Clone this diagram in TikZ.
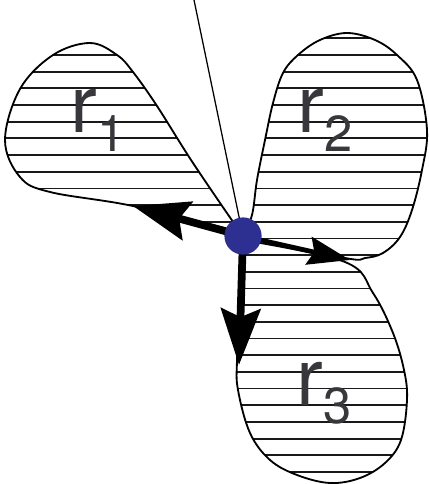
\documentclass[tikz,border=0pt]{standalone}
\usepackage{fontspec}
\setmainfont{TeX Gyre Heros}
\definecolor{dotblue}{RGB}{45,48,145}
\definecolor{labelgray}{RGB}{55,55,60}
\usetikzlibrary{arrows.meta}

\newcommand\lobeone{plot[smooth, tension=0.6] coordinates {(240,232) (193,163) (157,106) (133,72) (117,55) (90,43) (53,55) (20,89) (5,140) (20,177) (50,192) (133,206) (240,232)}}
\newcommand\lobetwo{plot[smooth, tension=0.6] coordinates {(243,236) (252,215) (257,180) (265,140) (273,103) (283,73) (298,55) (320,40) (347,33) (375,40) (397,55) (417,80) (427,130) (422,170) (412,210) (400,237) (383,253) (365,258) (345,258) (243,236)}}
\newcommand\lobethree{plot[smooth, tension=0.6] coordinates {(243,240) (345,262) (373,293) (393,333) (404,370) (407,400) (401,440) (385,463) (360,478) (330,483) (297,475) (270,460) (250,433) (238,390) (237,360) (240,300) (243,240)}}
\newcommand\lobesub[1]{\raisebox{-13.5pt}{\fontsize{36}{36}\selectfont #1}}

\begin{document}
\begin{tikzpicture}[x=0.025cm, y=-0.025cm,
        lobeline/.style={line width=1.3pt, line join=round},
        hatchline/.style={line width=1.3pt, black!90},
        bigarrow/.style={-{Stealth[length=40pt, width=28pt, inset=6pt]}, line width=5.5pt},
        smallarrow/.style={-{Stealth[length=30pt, width=20pt, inset=4pt]}, line width=3.2pt},
        lobelabel/.style={anchor=base west, inner sep=0pt, text=labelgray, font=\fontsize{57}{57}\selectfont},
        hub/.style={circle, fill=dotblue, minimum size=0.93cm, inner sep=0pt}
    ]
        \useasboundingbox (0,0) rectangle (428,484);

        % Lobes
        \begin{scope}
            \clip \lobeone;
            \foreach \k in {0,...,26} \draw[hatchline] (0,{38.3+16.68*\k}) -- (428,{38.3+16.68*\k});
        \end{scope}
        \draw[lobeline] \lobeone -- cycle;
        \begin{scope}
            \clip \lobetwo;
            \foreach \k in {0,...,26} \draw[hatchline] (0,{38.3+16.68*\k}) -- (428,{38.3+16.68*\k});
        \end{scope}
        \draw[lobeline] \lobetwo -- cycle;
        \begin{scope}
            \clip \lobethree;
            \foreach \k in {0,...,26} \draw[hatchline] (0,{38.3+16.68*\k}) -- (428,{38.3+16.68*\k});
        \end{scope}
        \draw[lobeline] \lobethree -- cycle;

        % Labels
        \node[lobelabel] (r1) at (70.5,133) {r\lobesub{1}};
        \node[lobelabel] (r2) at (297.5,133) {r\lobesub{2}};
        \node[lobelabel] (r3) at (296.5,405) {r\lobesub{3}};

        % Points
        \coordinate (centre) at (243,236);
        \coordinate (axis) at (194,0);
        \coordinate (tip1) at (133,206);
        \coordinate (tip2) at (350,260);
        \coordinate (tip3) at (239,365);

        % Arrows
        \draw[line width=0.9pt] (centre) -- (axis);
        \draw[bigarrow] (centre) -- (tip1);
        \draw[smallarrow] (centre) -- (tip2);
        \draw[bigarrow] (centre) -- (tip3);

        \node[hub] (dot) at (centre) {};
    \end{tikzpicture}
\end{document}
